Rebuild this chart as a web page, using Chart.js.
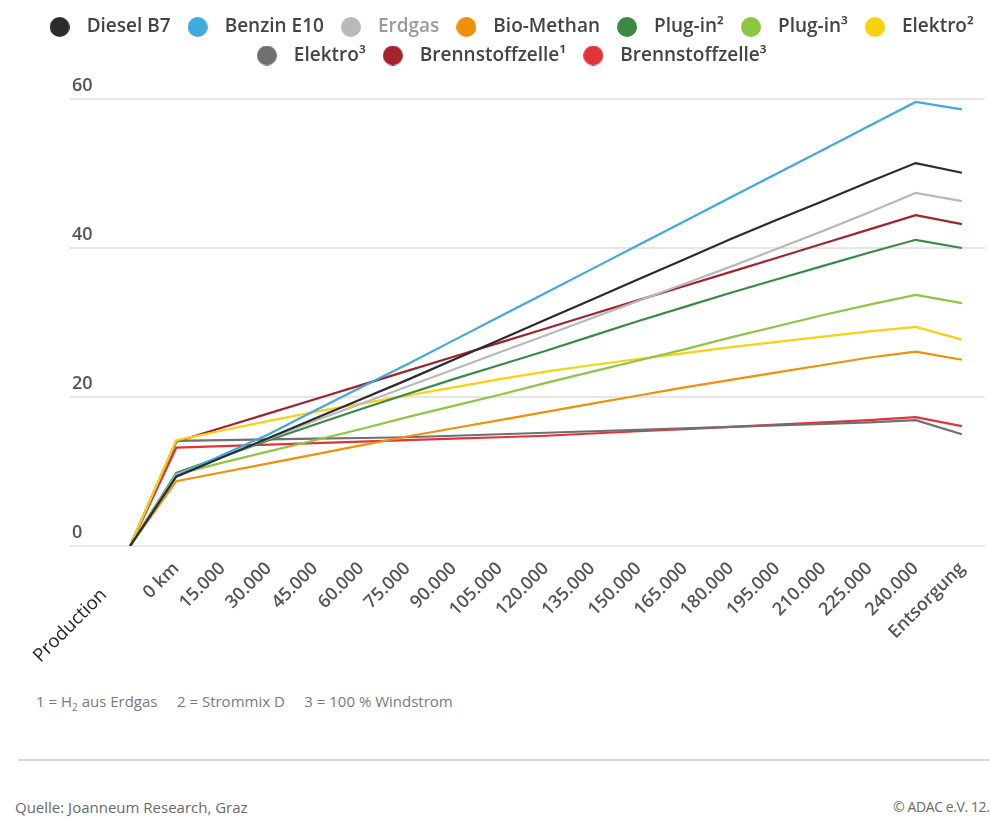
<!DOCTYPE html>
<html>
<head>
<meta charset="utf-8">
<script src="https://cdn.jsdelivr.net/npm/chart.js@4.4.0/dist/chart.umd.min.js"></script>
<style>
  html, body { margin: 0; padding: 0; background: #fff; }
  body { width: 990px; height: 822px; overflow: hidden; position: relative; font-family: 'Open Sans', sans-serif; }
  #wrap { position: absolute; left: 0; top: 0; width: 990px; height: 666px; }
  .note { position: absolute; left: 36px; top: 691px; font-size: 15px; color: #7a7a7a; white-space: pre; }
  .note sub { font-size: 10px; }
  .rule { position: absolute; left: 18px; right: 0; top: 759px; height: 2px; background: #d6d6d6; }
  .src { position: absolute; top: 797px; font-size: 15px; color: #6a6a6a; white-space: nowrap; }
  .copy { font-size: 14px; letter-spacing: -0.4px; }
</style>
</head>
<body>
<div id="wrap"><canvas id="co2Chart"></canvas></div>
<div class="note">1 = H<sub>2</sub> aus Erdgas     2 = Strommix D     3 = 100 % Windstrom</div>
<div class="rule"></div>
<div class="src" style="left:15px">Quelle: Joanneum Research, Graz</div>
<div class="src copy" style="left:893px">© ADAC e.V. 12.2022</div>

<script>
// Categories on the x axis
const categories = ['Production', '0 km', '15.000', '30.000', '45.000', '60.000', '75.000', '90.000',
    '105.000', '120.000', '135.000', '150.000', '165.000', '180.000', '195.000', '210.000',
    '225.000', '240.000', 'Entsorgung'];

const yTicks = [0, 20, 40, 60];

// Series values
const dieselB7   = [0, 9.3, 11.9, 14.5, 17.1, 19.7, 22.3, 25.0, 27.7, 30.4, 33.1, 35.8, 38.5, 41.2, 43.8, 46.3, 48.9, 51.4, 50.1];
const benzinE10  = [0, 9.4, 12.2, 15.0, 18.2, 21.3, 24.4, 27.6, 30.8, 34.0, 37.2, 40.4, 43.6, 46.8, 50.0, 53.2, 56.4, 59.6, 58.6];
const erdgas     = [0, 9.6, 12.0, 14.4, 16.8, 19.1, 21.4, 23.7, 26.0, 28.3, 30.6, 32.9, 35.2, 37.5, 39.9, 42.3, 44.8, 47.4, 46.3];
const bioMethan  = [0, 8.7, 9.9, 11.1, 12.3, 13.5, 14.7, 15.8, 16.9, 18.0, 19.1, 20.2, 21.3, 22.3, 23.3, 24.3, 25.3, 26.1, 25.0];
const plugin2    = [0, 9.8, 12.0, 14.2, 16.3, 18.4, 20.4, 22.4, 24.3, 26.2, 28.2, 30.2, 32.1, 34.0, 35.8, 37.6, 39.4, 41.1, 40.0];
const plugin3    = [0, 9.6, 11.2, 12.7, 14.2, 15.7, 17.3, 18.8, 20.3, 21.9, 23.4, 24.9, 26.4, 28.0, 29.5, 31.0, 32.4, 33.7, 32.6];
const elektro2   = [0, 14.2, 15.5, 16.8, 18.0, 19.1, 20.2, 21.3, 22.4, 23.4, 24.3, 25.1, 25.9, 26.7, 27.4, 28.1, 28.8, 29.4, 27.7];
const elektro3   = [0, 14.1, 14.2, 14.3, 14.4, 14.5, 14.6, 14.8, 15.0, 15.2, 15.4, 15.6, 15.8, 16.0, 16.2, 16.4, 16.6, 16.9, 15.0];
const brennst1   = [0, 14.0, 15.9, 17.8, 19.7, 21.6, 23.5, 25.4, 27.3, 29.2, 31.1, 33.0, 34.9, 36.8, 38.7, 40.6, 42.5, 44.4, 43.2];
const brennst3   = [0, 13.2, 13.4, 13.6, 13.8, 14.0, 14.2, 14.4, 14.6, 14.8, 15.1, 15.4, 15.7, 16.0, 16.3, 16.6, 16.9, 17.3, 16.1];

const seriesNames  = ['Diesel B7', 'Benzin E10', 'Erdgas', 'Bio-Methan', 'Plug-in²', 'Plug-in³',
    'Elektro²', 'Elektro³', 'Brennstoffzelle¹', 'Brennstoffzelle³'];
const seriesValues = [dieselB7, benzinE10, erdgas, bioMethan, plugin2, plugin3, elektro2, elektro3, brennst1, brennst3];
const seriesColors = ['#2b2b2b', '#3fa9e0', '#b9b9b9', '#f0900a', '#3a8a45', '#8dc641',
    '#f9d10f', '#707070', '#a3232b', '#e0343a'];

// Small round canvas used as legend marker
function makeDot(color) {
    const c = document.createElement('canvas');
    c.width = 20; c.height = 20;
    const g = c.getContext('2d');
    g.fillStyle = color;
    g.beginPath();
    g.arc(10, 10, 10, 0, Math.PI * 2);
    g.fill();
    return c;
}
const dots = seriesColors.map(makeDot);

const font = (size, weight) => ({ family: "'Open Sans', sans-serif", size: size, weight: weight });

new Chart(document.getElementById('co2Chart'), {
    type: 'line',
    data: {
        datasets: seriesNames.map((name, s) => ({
            label: name,
            data: seriesValues[s].map((v, i) => ({ x: i, y: v })),
            xAxisID: 'x',
            yAxisID: 'y',
            borderColor: seriesColors[s],
            backgroundColor: seriesColors[s],
            borderWidth: 2.2,
            pointRadius: 0,
            tension: 0,
            fill: false
        }))
    },
    options: {
        responsive: true,
        maintainAspectRatio: false,
        animation: false,
        layout: { padding: { top: 8, left: 31, right: 5, bottom: 0 } },
        plugins: {
            tooltip: { enabled: false },
            legend: {
                position: 'top',
                labels: {
                    usePointStyle: true,
                    pointStyleWidth: 35,
                    padding: 9.5,
                    color: '#444',
                    font: font(19, '600'),
                    generateLabels: (chart) => {
                        const items = Chart.defaults.plugins.legend.labels.generateLabels(chart);
                        items.forEach((item, i) => {
                            item.pointStyle = dots[i];
                            item.fontColor = seriesNames[i] === 'Erdgas' ? '#9a9a9a' : '#444';
                        });
                        return items;
                    }
                }
            }
        },
        scales: {
            x: {
                type: 'linear',
                bounds: 'data',
                min: -1.3,
                max: 18.5,
                afterBuildTicks: (s) => { s.ticks = categories.map((c, i) => ({ value: i })); },
                afterFit: (s) => { s.height = 120; },
                grid: { display: false },
                border: { display: false },
                ticks: {
                    autoSkip: false,
                    minRotation: 45,
                    maxRotation: 45,
                    padding: 4,
                    color: (ctx) => ctx.index === 0 ? '#222' : '#555',
                    font: (ctx) => font(ctx.index === 0 ? 18.5 : 18, ctx.index === 0 ? '400' : '600'),
                    // the first label sits a bit further down-left in the original
                    callback: (v) => v === 0 ? categories[0] + '\u2003\u2003' : categories[v]
                }
            },
            y: {
                min: 0,
                max: 60,
                afterBuildTicks: (s) => { s.ticks = yTicks.map(v => ({ value: v })); },
                afterFit: (s) => { s.width = 39; },
                grid: { color: '#e6e6e6', lineWidth: 2, drawTicks: false },
                border: { display: false },
                ticks: {
                    mirror: true,
                    padding: 2,
                    labelOffset: -13,
                    color: '#555',
                    font: font(18, '600')
                }
            },
            // empty axis that only keeps room between legend and plot
            gap: {
                type: 'linear',
                position: 'top',
                grid: { display: false },
                border: { display: false },
                ticks: { display: false },
                afterFit: (s) => { s.height = 24; }
            }
        }
    }
});
</script>
</body>
</html>
